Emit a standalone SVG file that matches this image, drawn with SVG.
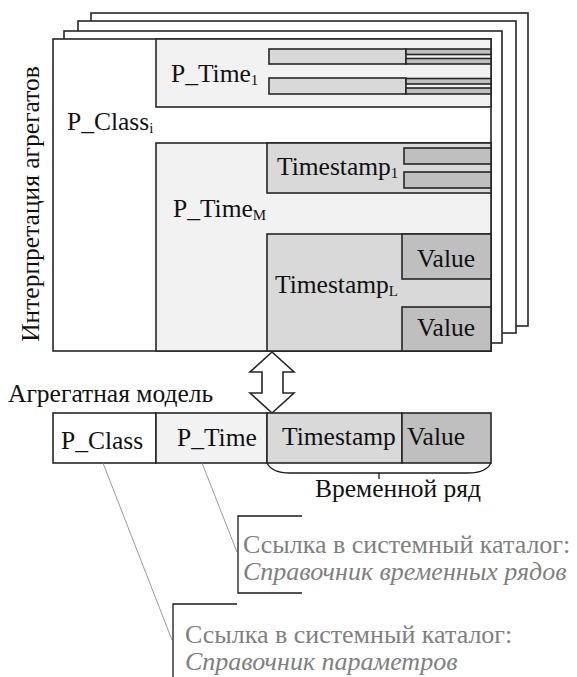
<svg xmlns="http://www.w3.org/2000/svg" width="577" height="677" viewBox="0 0 577 677" font-family="'Liberation Serif', 'Times New Roman', serif">
<style>
.t{font-size:25.5px;fill:#111}
.s{font-size:15px}
.g{font-size:26px;fill:#808080}
.i{font-style:italic}
.bx{stroke:#262626;stroke-width:1.6}
.w{fill:#fff}.l{fill:#f2f2f2}.m{fill:#d9d9d9}.d{fill:#bfbfbf}
.ln{fill:none;stroke:#808080;stroke-width:0.8}
.br{fill:none;stroke:#1a1a1a;stroke-width:1.3}
</style>
<rect width="577" height="677" fill="#fff"/>
<g id="pages">
<rect class="bx w" x="91" y="13" width="437" height="313"/>
<rect class="bx w" x="78" y="21" width="438" height="312"/>
<rect class="bx w" x="64" y="31" width="438" height="312"/>
<rect class="bx w" x="53" y="39" width="438" height="312"/>
</g>
<g id="label-vertical">
<text class="t" transform="translate(39,204) rotate(-90)" text-anchor="middle">Интерпретация агрегатов</text>
</g>
<g id="pclass-i">
<text class="t" x="67" y="130">P_Class<tspan class="s" dy="3">i</tspan></text>
</g>
<g id="ptime-1">
<rect class="bx l" x="156" y="39" width="335" height="68"/>
<text class="t" x="171" y="82">P_Time<tspan class="s" dy="3">1</tspan></text>
<rect class="bx m" x="269" y="49" width="137" height="15"/>
<rect class="bx d" x="406" y="49" width="85" height="5.5"/>
<rect class="bx d" x="406" y="58.5" width="85" height="5.5"/>
<rect class="bx m" x="269" y="78" width="137" height="16"/>
<rect class="bx d" x="406" y="78.5" width="85" height="5.5"/>
<rect class="bx d" x="406" y="88" width="85" height="6"/>
</g>
<g id="ptime-m">
<rect class="bx l" x="156" y="143" width="335" height="208"/>
<text class="t" x="173" y="217">P_Time<tspan class="s" dy="3">M</tspan></text>
</g>
<g id="timestamp-1">
<rect class="bx m" x="267" y="143" width="224" height="50"/>
<text class="t" x="277" y="175">Timestamp<tspan class="s" dy="3">1</tspan></text>
<rect class="bx d" x="404" y="148" width="87" height="16"/>
<rect class="bx d" x="404" y="172" width="87" height="16"/>
</g>
<g id="timestamp-l">
<rect class="bx m" x="267" y="234" width="224" height="117"/>
<text class="t" x="275" y="293">Timestamp<tspan class="s" dy="3">L</tspan></text>
<rect class="bx d" x="402" y="234" width="89" height="45"/>
<text class="t" x="417" y="267">Value</text>
<rect class="bx d" x="402" y="307" width="89" height="44"/>
<text class="t" x="417" y="336">Value</text>
</g>
<g id="arrow">
<path class="bx w" d="M272,352 L250,372 L262,372 L262,393 L250,393 L272,413 L294,393 L283,393 L283,372 L294,372 Z"/>
</g>
<g id="model-label">
<text class="t" x="8" y="402">Агрегатная модель</text>
</g>
<g id="model-row">
<rect class="bx w" x="53" y="413" width="103" height="50"/>
<text class="t" x="61" y="449">P_Class</text>
<rect class="bx l" x="156" y="413" width="111" height="50"/>
<text class="t" x="177" y="446">P_Time</text>
<rect class="bx m" x="267" y="413" width="135" height="50"/>
<text class="t" x="282" y="445">Timestamp</text>
<rect class="bx d" x="402" y="413" width="89" height="50"/>
<text class="t" x="407" y="445">Value</text>
</g>
<g id="series-brace">
<path class="br" d="M267,463 Q272,473 290,473 L468,473 Q486,473 491,463 M379,473 L379,479"/>
<text class="t" x="315" y="497">Временной ряд</text>
</g>
<g id="connectors">
<line class="ln" x1="202" y1="463" x2="237" y2="552"/>
<line class="ln" x1="103" y1="463" x2="172" y2="640"/>
</g>
<g id="note-series">
<path class="br" d="M302,516 L238,516 L238,593 L302,593"/>
<text class="g" x="243" y="553">Ссылка в системный каталог:</text>
<text class="g i" x="243" y="580">Справочник временных рядов</text>
</g>
<g id="note-params">
<path class="br" d="M237,604 L173,604 L173,677"/>
<text class="g" x="185" y="643">Ссылка в системный каталог:</text>
<text class="g i" x="185" y="670">Справочник параметров</text>
</g>
</svg>
